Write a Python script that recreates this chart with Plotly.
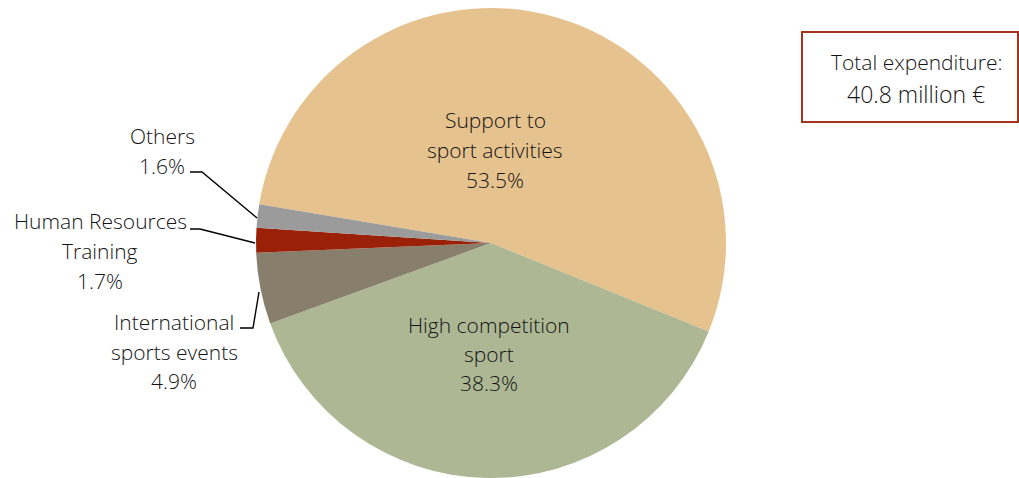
import plotly.graph_objects as go

W, H = 1019, 478

categories = ["Support to<br>sport activities", "High competition<br>sport",
              "International<br>sports events", "Human Resources<br>Training", "Others"]
shares = [53.5, 38.3, 4.9, 1.7, 1.6]
colors = ["#E6C28E", "#ADB794", "#887E6C", "#9A2108", "#9B9B9B"]
total_text = ["Total expenditure:", "40.8 million €"]

FONT = "Open Sans"
FS = 21
TXT = "#141414"

fig = go.Figure(go.Pie(
    labels=[c.replace("<br>", " ") for c in categories],
    values=shares,
    sort=False,
    direction="clockwise",
    rotation=-80.5,
    marker=dict(colors=colors, line=dict(width=0)),
    textinfo="none",
    hoverinfo="label+percent",
    domain=dict(x=[(491 - 235) / W, (491 + 235) / W], y=[0, 470 / H]),
    showlegend=False,
))

def px(x, y):
    return x / W, 1 - y / H

# label anchor positions (pixel centers of first line), line spacing
label_pos = [(495, 120, 30), (489, 325, 29), (174, 322, 29.5), (100, 221, 30), (162, 136, 30)]

annotations = []
for cat, val, (cx, cy, dy) in zip(categories, shares, label_pos):
    lines = cat.split("<br>") + [f"{val:.1f}%"]
    for i, ln in enumerate(lines):
        x, y = px(cx, cy + i * dy)
        annotations.append(dict(x=x, y=y, xref="paper", yref="paper", text=ln,
                                showarrow=False, xanchor="center", yanchor="middle",
                                font=dict(family=FONT, size=FS, color=TXT, weight=300)))

for i, (t, fs) in enumerate(zip(total_text, [21, 23])):
    x, y = px(916, 62 + i * 32)
    annotations.append(dict(x=x, y=y, xref="paper", yref="paper", text=t,
                            showarrow=False, xanchor="center", yanchor="middle",
                            font=dict(family=FONT, size=fs, color=TXT, weight=300)))

def path(pts):
    s = ""
    for i, (x, y) in enumerate(pts):
        X, Y = px(x, y)
        s += ("M" if i == 0 else "L") + f"{X},{Y} "
    return s.strip()

leaders = [
    [(190, 172), (202, 172), (257, 218)],
    [(190, 229), (200, 229), (255, 243)],
    [(240, 328), (253, 328), (259, 292)],
]
shapes = [dict(type="path", xref="paper", yref="paper", path=path(p),
               line=dict(color="black", width=1.4)) for p in leaders]

x0, y0 = px(802, 122)
x1, y1 = px(1018, 32)
shapes.append(dict(type="rect", xref="paper", yref="paper", x0=x0, y0=y0, x1=x1, y1=y1,
                   line=dict(color="#A5341E", width=2), fillcolor="white"))

fig.update_layout(
    width=W, height=H,
    margin=dict(l=0, r=0, t=0, b=0),
    paper_bgcolor="white", plot_bgcolor="white",
    annotations=annotations,
    shapes=shapes,
)

fig.write_html("out.html", config={"displayModeBar": False})
